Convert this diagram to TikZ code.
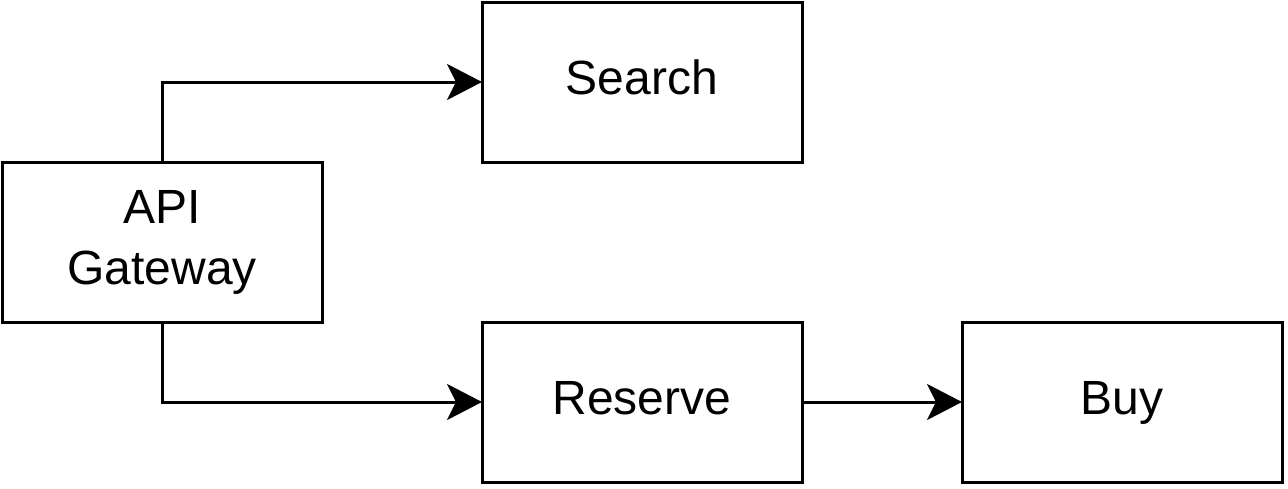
\documentclass[tikz,border=0pt]{standalone}
\usepackage{fontspec}
\setmainfont{Liberation Sans}
\usetikzlibrary{arrows.meta}
\begin{document}
\begin{tikzpicture}[x=1pt,y=-1pt,
  box/.style={draw=black,line width=3pt,minimum width=320pt,minimum height=160pt,inner sep=0pt,outer sep=0pt,align=center,font=\fontsize{48}{61}\selectfont},
  conn/.style={line width=3pt,-{Stealth[length=35pt,width=36pt,inset=9pt]}}]
\useasboundingbox (0,0) rectangle (1288,488);
\node[box] (api) at (162,242) {\strut API\\\strut Gateway};
\node[box] (search) at (642,82) {\strut Search};
\node[box] (reserve) at (642,402) {\strut Reserve};
\node[box] (buy) at (1122,402) {\strut Buy};
\draw[conn] (api.north) |- (search.west);
\draw[conn] (api.south) |- (reserve.west);
\draw[conn] (reserve.east) -- (buy.west);
\end{tikzpicture}
\end{document}
